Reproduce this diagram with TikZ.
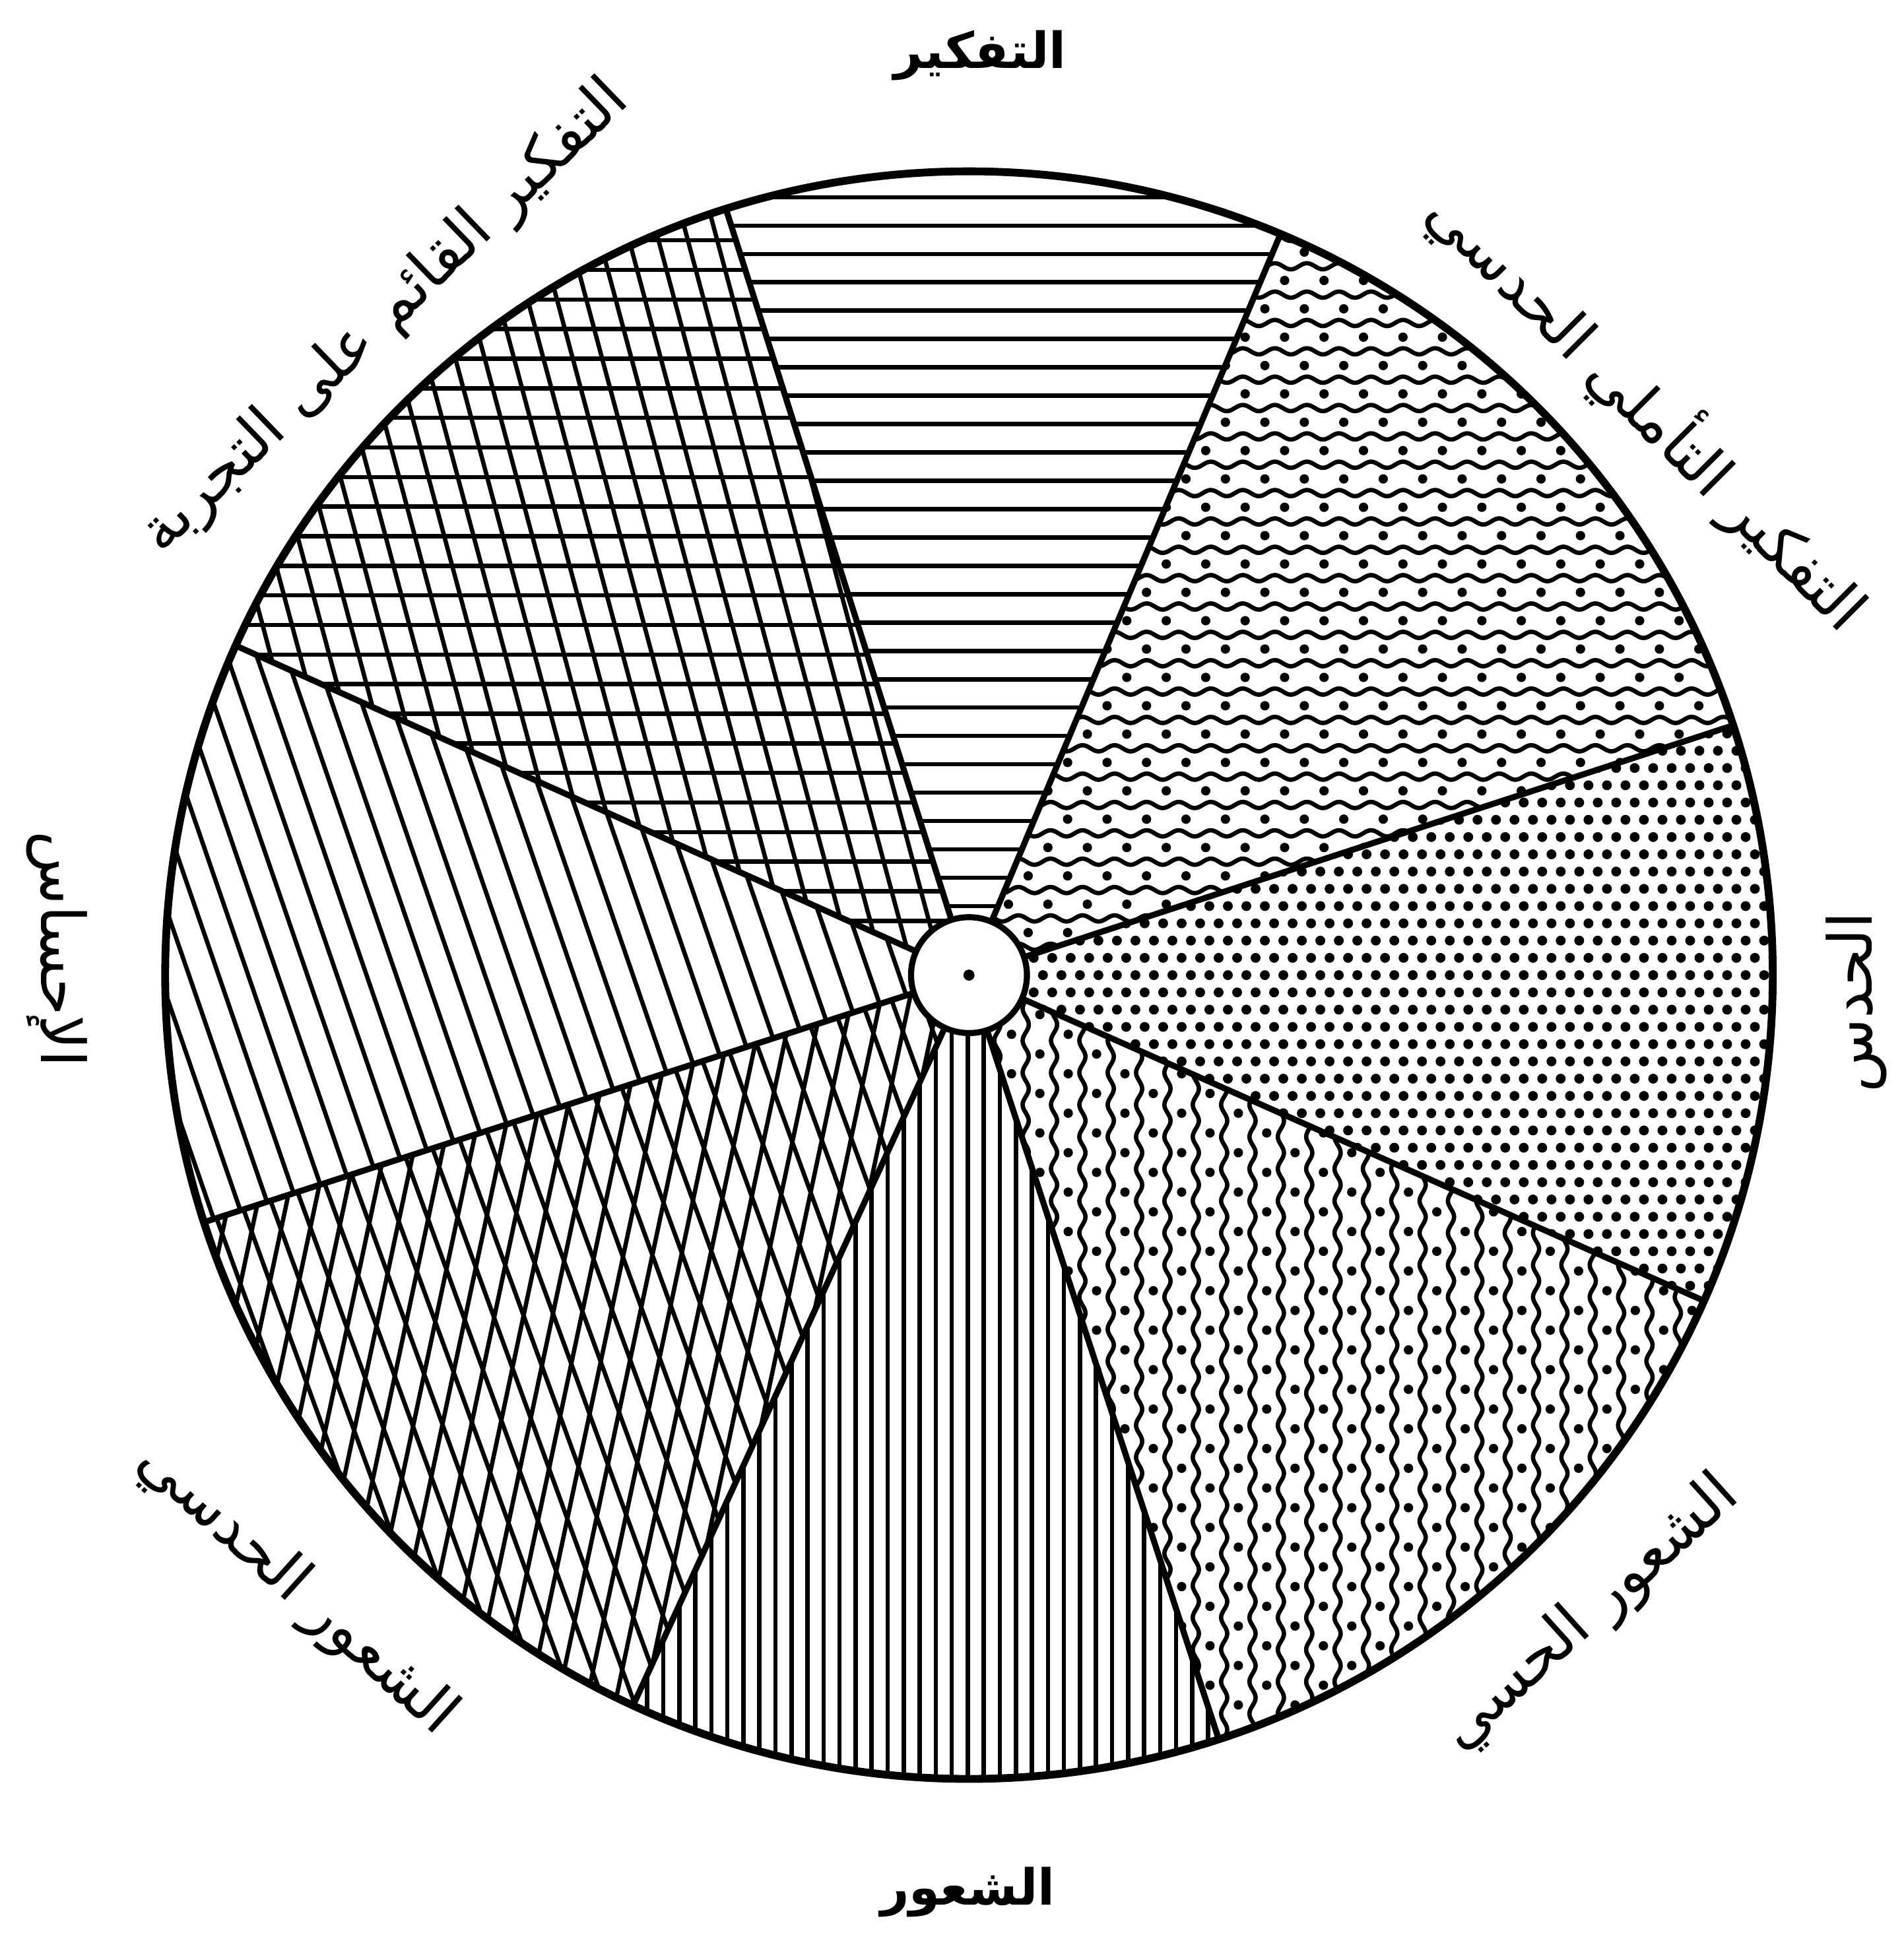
\documentclass[tikz,border=0pt]{standalone}
\usepackage{fontspec}
\newfontfamily\arabicfont[Script=Arabic]{DejaVu Sans}
\TeXXeTstate=1
\usetikzlibrary{decorations.pathmorphing}

\begin{document}
\begin{tikzpicture}[
    rim/.style={line width=1.8pt},
    spoke/.style={line width=1.4pt},
    hatch/.style={line width=1pt},
    wavy/.style={line width=1pt, decorate, decoration={snake, amplitude=0.25mm, segment length=2.6mm}},
    dot/.style={fill=black},
    sectorlabel/.style={font=\arabicfont\fontsize{14}{17}\selectfont, inner sep=0pt},
    mainlabel/.style={font=\arabicfont\bfseries\fontsize{11.5}{14}\selectfont, inner sep=0pt}
]
\useasboundingbox (-7.86,-7.77) rectangle (7.58,7.91);
\def\R{6.52}

% Thinking
\begin{scope}
\clip (0,0) -- (67.2:\R) arc (67.2:107.6:\R) -- cycle;
\foreach \y in {0.1,0.33,...,7} \draw[hatch] (-3,\y) -- (3,\y);
\end{scope}

% Experiential thinking
\begin{scope}
\clip (0,0) -- (107.6:\R) arc (107.6:155.8:\R) -- cycle;
\foreach \y in {-1,-0.76,...,7} \draw[hatch] (-7,\y) -- (1,\y);
\foreach \d in {-9,-8.77,...,9} \draw[hatch, rotate=105] (-10,\d) -- (10,\d);
\end{scope}

% Sensation
\begin{scope}
\clip (0,0) -- (155.8:\R) arc (155.8:197.9:\R) -- cycle;
\foreach \d in {-9,-8.773,...,9} \draw[hatch, rotate=109] (-10,\d) -- (10,\d);
\end{scope}

% Intuitive feeling
\begin{scope}
\clip (0,0) -- (197.9:\R) arc (197.9:245.3:\R) -- cycle;
\foreach \d in {-9,-8.77,...,9} \draw[hatch, rotate=110] (-10,\d) -- (10,\d);
\foreach \d in {-9,-8.77,...,9} \draw[hatch, rotate=78] (-10,\d) -- (10,\d);
\end{scope}

% Feeling
\begin{scope}
\clip (0,0) -- (245.3:\R) arc (245.3:288.1:\R) -- cycle;
\foreach \x in {-3,-2.87,...,3} \draw[hatch] (\x,0) -- (\x,-7);
\end{scope}

% Sensory feeling
\begin{scope}
\clip (0,0) -- (288.1:\R) arc (288.1:336.1:\R) -- cycle;
\foreach \x in {0,0.23,...,7} \draw[wavy] (\x,0.2) -- (\x,-7);
\foreach \j in {0,...,29} \foreach \k in {0,...,21}
  \fill[dot] ({\j*0.23+0.115}, {-\k*0.32-mod(\j,2)*0.16}) circle (0.038);
\end{scope}

% Intuition
\begin{scope}
\clip (0,0) -- (336.1:\R) arc (336.1:378.1:\R) -- cycle;
\foreach \i in {0,...,44} \foreach \k in {0,...,36}
  \fill[dot] ({\i*0.15+mod(\k,2)*0.075}, {-2.8+\k*0.14}) circle (0.04);
\end{scope}

% Intuitive reflective thinking
\begin{scope}
\clip (0,0) -- (18.1:\R) arc (18.1:67.2:\R) -- cycle;
\foreach \y in {0,0.23,...,7} \draw[wavy] (-0.2,\y) -- (7,\y);
\foreach \k in {0,...,29} \foreach \j in {0,...,21}
  \fill[dot] ({\j*0.32+mod(\k,2)*0.16}, {\k*0.23+0.115}) circle (0.038);
\end{scope}

% Spokes and rim
\foreach \a in {18.1,67.2,107.6,155.8,197.9,245.3,288.1,336.1}
  \draw[spoke] (0,0) -- (\a:\R);
\draw[rim] (0,0) circle (\R);
\node[draw, circle, fill=white, line width=1.4pt, minimum size=0.94cm, inner sep=0pt] (hub) at (0,0) {};
\fill (hub.center) circle (0.045);

% Labels
\node[mainlabel] (thinking) at (0.09,7.46) {\beginR التفكير\endR};
\node[sectorlabel, rotate=44] (experiential) at (131.6:7.13) {\beginR التفكير القائم على التجربة\endR};
\node[sectorlabel, rotate=-45] (reflective) at (39.8:7.18) {\beginR التفكير التأملي الحدسي\endR};
\node[sectorlabel, rotate=90] (intuition) at (7.20,-0.22) {\beginR الحدس\endR};
\node[sectorlabel, rotate=-90] (sensation) at (-7.40,0.21) {\beginR الإحساس\endR};
\node[mainlabel] (feeling) at (-0.01,-7.44) {\beginR الشعور\endR};
\node[sectorlabel, rotate=42] (sensory) at (-45.8:7.23) {\beginR الشعور الحسي\endR};
\node[sectorlabel, rotate=-42] (intuitivefeeling) at (222.4:7.39) {\beginR الشعور الحدسي\endR};
\end{tikzpicture}
\end{document}
